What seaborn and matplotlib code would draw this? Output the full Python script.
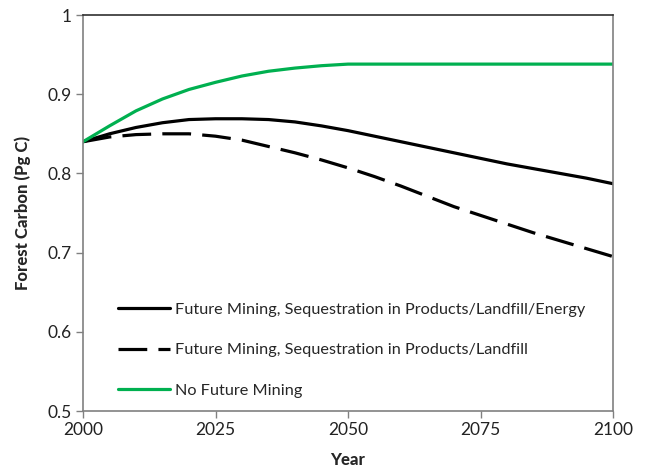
import numpy as np
import pandas as pd
import matplotlib
matplotlib.use("Agg")
import matplotlib.pyplot as plt
import seaborn as sns

years = [2000, 2005, 2010, 2015, 2020, 2025, 2030, 2035, 2040, 2045, 2050,
         2055, 2060, 2065, 2070, 2075, 2080, 2085, 2090, 2095, 2100]
energy = [0.840, 0.850, 0.858, 0.864, 0.868, 0.869, 0.869, 0.868, 0.865, 0.860, 0.854,
          0.847, 0.840, 0.833, 0.826, 0.819, 0.812, 0.806, 0.800, 0.794, 0.787]
landfill = [0.840, 0.846, 0.849, 0.850, 0.850, 0.847, 0.842, 0.834, 0.826, 0.817, 0.807,
            0.796, 0.784, 0.771, 0.758, 0.747, 0.736, 0.725, 0.715, 0.705, 0.695]
no_mining = [0.840, 0.860, 0.879, 0.894, 0.906, 0.915, 0.923, 0.929, 0.933, 0.936, 0.938,
             0.938, 0.938, 0.938, 0.938, 0.938, 0.938, 0.938, 0.938, 0.938, 0.938]
labels = ["Future Mining, Sequestration in Products/Landfill/Energy",
          "Future Mining, Sequestration in Products/Landfill",
          "No Future Mining"]
xticks = [2000, 2025, 2050, 2075, 2100]
yticks = [0.5, 0.6, 0.7, 0.8, 0.9, 1.0]
yticklabels = ["0.5", "0.6", "0.7", "0.8", "0.9", "1"]

sns.set_style("white")
plt.rcParams['font.family'] = ['Lato', 'DejaVu Sans']

df = pd.DataFrame({
    "Year": years * 3,
    "Carbon": energy + landfill + no_mining,
    "Scenario": [labels[0]] * len(years) + [labels[1]] * len(years) + [labels[2]] * len(years),
})

fig = plt.figure(figsize=(6.5, 4.72), dpi=100)
ax = fig.add_axes([0.1277, 0.1292, 0.8154, 0.839])

palette = {labels[0]: "black", labels[1]: "black", labels[2]: "#00B050"}
dashes = {labels[0]: "", labels[1]: (9, 3.5), labels[2]: ""}
sns.lineplot(data=df, x="Year", y="Carbon", hue="Scenario", style="Scenario",
             palette=palette, dashes=dashes, hue_order=labels, style_order=labels,
             linewidth=2.3, ax=ax)

ax.set_xlim(2000, 2100)
ax.set_ylim(0.5, 1.0)
ax.set_xticks(xticks)
ax.set_xticklabels([str(x) for x in xticks], fontsize=12.5, color="#222222")
ax.set_yticks(yticks)
ax.set_yticklabels(yticklabels, fontsize=12.5, color="#222222")
ax.tick_params(axis="both", direction="out", length=5, width=1, color="#808080",
               left=True, bottom=True, pad=3)
ax.set_xlabel("Year", fontsize=12, fontweight="black", labelpad=10)
ax.set_ylabel("Forest Carbon (Pg C)", fontsize=12, fontweight="black", labelpad=12)

for side in ["left", "bottom", "right"]:
    ax.spines[side].set_color("#808080")
    ax.spines[side].set_linewidth(1.2)
ax.spines["top"].set_color("#303030")
ax.spines["top"].set_linewidth(1.2)

leg = ax.legend(loc="lower left", bbox_to_anchor=(0.038, -0.003), frameon=False,
                fontsize=11.7, handlelength=3.2, labelspacing=1.6, handletextpad=0.35)

fig.savefig("out.png", dpi=100)
